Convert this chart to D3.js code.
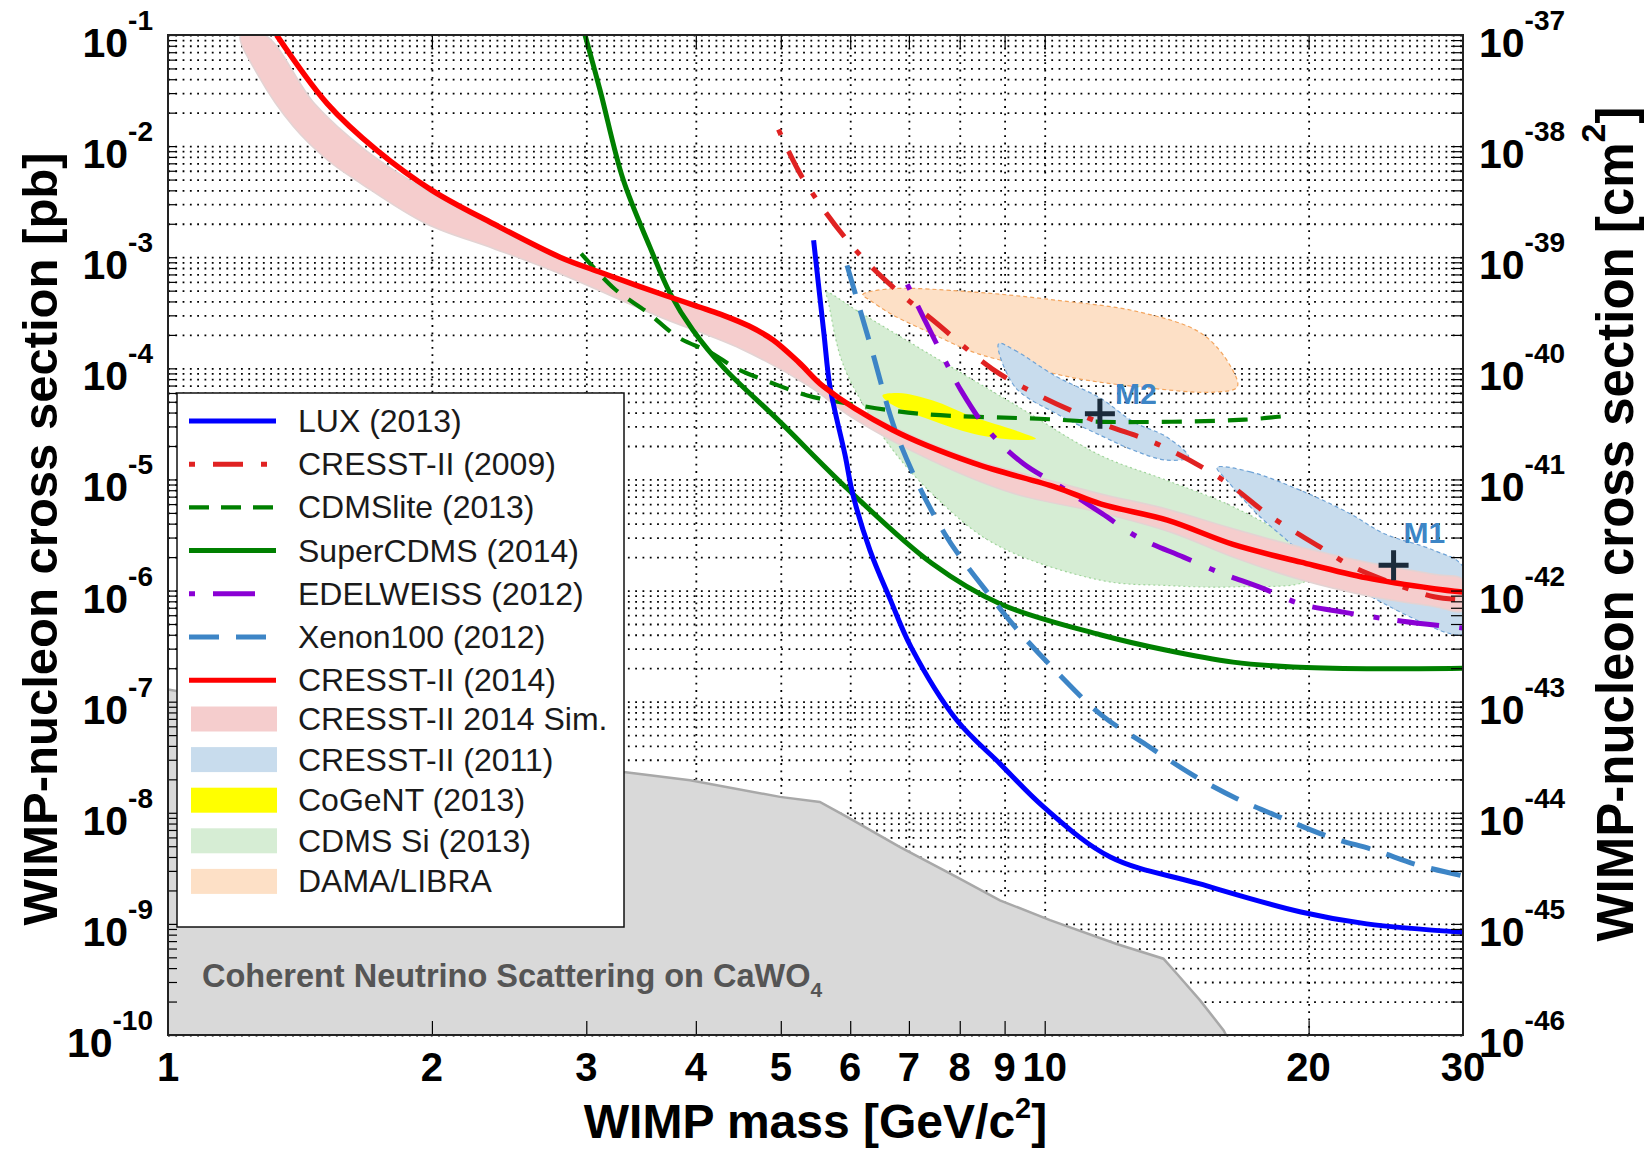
<!DOCTYPE html>
<html>
<head>
<meta charset="utf-8">
<script src="https://d3js.org/d3.v7.min.js"></script>
<title>WIMP-nucleon cross section limits</title>
<style>
  body { margin: 0; background: #fff; }
  svg { display: block; font-family: "Liberation Sans", Arial, Helvetica, sans-serif; }
</style>
</head>
<body>
<div id="chart"></div>
<script>
  // values: mass in GeV/c^2, cross section in pb
  const massTicks = [1, 2, 3, 4, 5, 6, 7, 8, 9, 10, 20, 30];
  const pbExponents = [-1, -2, -3, -4, -5, -6, -7, -8, -9, -10];
  const cm2Exponents = [-37, -38, -39, -40, -41, -42, -43, -44, -45, -46];
  const mantissas = [1, 2, 3, 4, 5, 6, 7, 8, 9];

  // exclusion curves
  const luxMass = [5.45, 5.6, 5.69, 5.92, 6.04, 6.32, 6.67, 7.04, 7.94, 8.89, 9.97, 11.88, 15.0, 19.6, 23.3, 30];
  const luxSigma = [1.42e-3, 2.05e-4, 6.8e-5, 1.65e-5, 7.4e-6, 2.3e-6, 8.2e-7, 3.1e-7, 6.8e-8, 2.77e-8, 1.13e-8, 4.0e-9, 2.3e-9, 1.28e-9, 1.0e-9, 8.4e-10];

  const cresst09Mass = [4.97, 5.3, 6.02, 6.71, 7.5, 8.71, 9.77, 11.5, 13.54, 16.0, 18.1, 20.6, 22.1, 23.3, 27.8, 30];
  const cresst09Sigma = [1.41e-2, 5.1e-3, 1.28e-3, 5.4e-4, 2.61e-4, 9.9e-5, 5.9e-5, 3.29e-5, 2.03e-5, 9.8e-6, 4.65e-6, 2.47e-6, 1.75e-6, 1.44e-6, 8.8e-7, 8.3e-7];

  const cdmsliteMass = [2.96, 3.23, 3.52, 3.82, 4.15, 4.46, 4.86, 5.36, 5.98, 7.2, 10.0, 11.6, 16.9, 19.2];
  const cdmsliteSigma = [1.08e-3, 5.2e-4, 3.2e-4, 1.9e-4, 1.4e-4, 9.9e-5, 7.5e-5, 5.7e-5, 4.8e-5, 3.9e-5, 3.5e-5, 3.3e-5, 3.45e-5, 3.8e-5];

  const superCdmsMass = [2.99, 3.11, 3.305, 3.545, 3.74, 3.97, 4.31, 4.97, 5.98, 7.44, 8.89, 11.57, 13.78, 16.4, 19.2, 23.3, 30];
  const superCdmsSigma = [0.1, 3.2e-2, 5.0e-3, 1.24e-3, 4.7e-4, 2.2e-4, 1.0e-4, 3.4e-5, 8.0e-6, 1.75e-6, 7.6e-7, 4.0e-7, 2.9e-7, 2.27e-7, 2.05e-7, 1.98e-7, 2.0e-7];

  const edelweissMass = [6.97, 7.56, 8.03, 8.62, 9.45, 10.37, 11.63, 12.76, 14.4, 15.77, 17.77, 19.56, 21.9, 25.6, 30];
  const edelweissSigma = [5.7e-4, 1.56e-4, 6.3e-5, 2.77e-5, 1.39e-5, 8.85e-6, 4.92e-6, 3.03e-6, 2.0e-6, 1.47e-6, 1.04e-6, 7.6e-7, 6.4e-7, 5.3e-7, 4.6e-7];

  const xenonMass = [5.95, 6.32, 6.82, 7.69, 8.74, 9.25, 10.32, 11.6, 13.08, 14.78, 16.57, 18.73, 21.2, 23.8, 26.6, 30];
  const xenonSigma = [8.45e-4, 1.67e-4, 2.25e-5, 3.25e-6, 8.2e-7, 4.7e-7, 1.85e-7, 7.6e-8, 4.05e-8, 2.17e-8, 1.34e-8, 8.85e-9, 6.0e-9, 4.6e-9, 3.4e-9, 2.7e-9];

  const cresst14Mass = [1.33, 1.52, 1.73, 2.0, 2.35, 2.8, 3.1, 3.7, 4.3, 4.6, 4.9, 5.25, 5.6, 6.7, 8.3, 10.3, 11.6, 13.8, 16.4, 19.6, 23.3, 27.8, 30];
  const cresst14Sigma = [0.1, 2.4e-2, 9.2e-3, 4.0e-3, 2.0e-3, 1.0e-3, 7.4e-4, 4.5e-4, 3.0e-4, 2.4e-4, 1.8e-4, 1.12e-4, 6.8e-5, 2.8e-5, 1.4e-5, 8.5e-6, 6.0e-6, 4.3e-6, 2.6e-6, 1.8e-6, 1.3e-6, 1.04e-6, 9.7e-7];

  // filled regions (edge points, going round the outline)
  const simUpperMass = [1.29, 1.47, 1.68, 1.97, 2.35, 2.8, 3.1, 3.7, 4.3, 4.6, 4.9, 5.25, 5.6, 6.7, 8.3, 10.3, 11.6, 13.8, 16.4, 19.6, 23.3, 27.8, 30];
  const simUpperSigma = [0.1, 2.4e-2, 9.2e-3, 4.0e-3, 1.9e-3, 9.5e-4, 7.2e-4, 4.5e-4, 3.0e-4, 2.4e-4, 1.8e-4, 1.15e-4, 7.0e-5, 3.0e-5, 1.5e-5, 9.5e-6, 7.4e-6, 5.4e-6, 3.6e-6, 2.45e-6, 1.8e-6, 1.4e-6, 1.25e-6];
  const simLowerMass = [1.21, 1.27, 1.39, 1.52, 1.66, 1.97, 2.35, 2.8, 3.64, 4.5, 5.4, 6.0, 7.4, 9.2, 11.6, 14, 16.4, 19.6, 23.3, 27.8, 30];
  const simLowerSigma = [0.1, 4.2e-2, 1.5e-2, 7.5e-3, 4.6e-3, 2.0e-3, 1.2e-3, 7.1e-4, 2.9e-4, 1.5e-4, 6.8e-5, 3.7e-5, 1.5e-5, 7.5e-6, 5.0e-6, 3.3e-6, 2.0e-6, 1.25e-6, 9.0e-7, 7.2e-7, 6.6e-7];

  const damaMass = [6.2, 6.67, 8.29, 10.32, 12.83, 15.11, 16.31, 16.58, 15.61, 12.83, 10.89, 9.25, 8.29, 7.44, 6.67, 6.32];
  const damaSigma = [4.6e-4, 5.2e-4, 4.86e-4, 4.1e-4, 3.21e-4, 2.05e-4, 1.03e-4, 6.8e-5, 6.1e-5, 6.8e-5, 8.1e-5, 1.1e-4, 1.4e-4, 2.05e-4, 3.1e-4, 4.1e-4];

  const cresst11M2Mass = [8.86, 9.25, 10.32, 11.57, 12.63, 13.78, 14.59, 13.78, 12.63, 11.57, 10.32, 9.25];
  const cresst11M2Sigma = [1.67e-4, 1.45e-4, 8.4e-5, 5.4e-5, 3.29e-5, 2.41e-5, 1.59e-5, 1.49e-5, 1.83e-5, 2.5e-5, 3.9e-5, 6.8e-5];
  const cresst11M1Mass = [15.72, 17.16, 19.56, 22.3, 24.4, 27.8, 30, 30, 29.0, 26.6, 24.4, 22.9, 20.45, 18.9, 17.46, 16.14];
  const cresst11M1Sigma = [1.28e-5, 1.17e-5, 8.0e-6, 4.92e-6, 3.25e-6, 2.3e-6, 1.63e-6, 4.1e-7, 4.1e-7, 5.4e-7, 7.6e-7, 1.0e-6, 1.63e-6, 2.83e-6, 4.92e-6, 9.8e-6];

  const cogentMass = [6.53, 6.82, 7.44, 8.29, 9.25, 9.77, 9.25, 8.29, 7.44, 6.67];
  const cogentSigma = [5.7e-5, 6.0e-5, 5.15e-5, 3.65e-5, 2.77e-5, 2.33e-5, 2.28e-5, 2.58e-5, 3.4e-5, 4.8e-5];

  const cdmsSiMass = [5.63, 6.11, 7.44, 9.25, 11.57, 13.78, 16.42, 19.05, 19.9, 19.9, 16.42, 13.78, 11.57, 8.76, 7.44, 6.67, 6.11, 5.85, 5.66];
  const cdmsSiSigma = [4.86e-4, 3.3e-4, 1.3e-4, 4.7e-5, 1.65e-5, 9.8e-6, 5.65e-6, 2.83e-6, 1.69e-6, 1.24e-6, 1.08e-6, 1.11e-6, 1.24e-6, 2.64e-6, 7.45e-6, 1.96e-5, 5.9e-5, 1.26e-4, 4.1e-4];

  // coherent neutrino scattering on CaWO4 (upper edge of grey area)
  const neutrinoMass = [1, 3.31, 3.94, 4.99, 5.54, 5.95, 6.84, 7.94, 8.89, 10.14, 12.08, 13.66, 14.15, 15.04, 16.0, 16.1];
  const neutrinoSigma = [1.29e-7, 2.33e-8, 1.96e-8, 1.39e-8, 1.25e-8, 9.2e-9, 4.9e-9, 2.64e-9, 1.63e-9, 1.08e-9, 6.6e-10, 4.86e-10, 3.56e-10, 2.05e-10, 1.1e-10, 1e-10];

  // best fit points of CRESST-II 2011
  const markerNames = ["M1", "M2"];
  const markerMass = [25.0, 11.56];
  const markerSigma = [1.69e-6, 3.9e-5];

  const legendLabels = ["LUX (2013)", "CRESST-II (2009)", "CDMSlite (2013)", "SuperCDMS (2014)", "EDELWEISS (2012)",
    "Xenon100 (2012)", "CRESST-II (2014)", "CRESST-II 2014 Sim.", "CRESST-II (2011)", "CoGeNT (2013)",
    "CDMS Si (2013)", "DAMA/LIBRA"];

  const zip = (ms, ss) => ms.map((m, i) => [m, ss[i]]);

  // Set up the dimensions for the chart
  const margin = { top: 35, left: 168 };
  const width = 1295;
  const height = 1000;

  const x = d3.scaleLog().domain([1, 30]).range([0, width]);
  const y = d3.scaleLog().domain([1e-10, 1e-1]).range([height, 0]);
  const yRight = d3.scaleLog().domain([1e-46, 1e-37]).range([height, 0]);

  const svg = d3.select("#chart")
    .append("svg")
    .attr("width", 1650)
    .attr("height", 1151);

  svg.append("defs").append("clipPath").attr("id", "plot-clip")
    .append("rect").attr("width", width).attr("height", height);

  const g = svg.append("g").attr("transform", `translate(${margin.left}, ${margin.top})`);

  // grid values: every mantissa of every decade
  const yGridValues = [];
  pbExponents.slice(1).forEach(e => mantissas.forEach(k => yGridValues.push(k * Math.pow(10, e))));
  yGridValues.push(0.1);
  const xGridValues = massTicks.filter(m => m > 1 && m < 30);

  // dotted grid
  const hGrid = g.append("g")
    .call(d3.axisLeft(y).tickValues(yGridValues).tickSize(-width).tickFormat(""));
  const vGrid = g.append("g")
    .attr("transform", `translate(0, ${height})`)
    .call(d3.axisBottom(x).tickValues(xGridValues).tickSize(-height).tickFormat(""));
  [hGrid, vGrid].forEach(grid => {
    grid.select(".domain").remove();
    grid.selectAll("line")
      .attr("stroke", "#000")
      .attr("stroke-width", 1.8)
      .attr("stroke-dasharray", "1.8,5.5");
  });

  const plot = g.append("g").attr("clip-path", "url(#plot-clip)");

  const line = d3.line().x(d => x(d[0])).y(d => y(d[1])).curve(d3.curveCatmullRom.alpha(0.5));
  const closed = d3.line().x(d => x(d[0])).y(d => y(d[1])).curve(d3.curveCatmullRomClosed.alpha(0.5));

  // neutrino background area
  const neutrino = zip(neutrinoMass, neutrinoSigma);
  plot.append("path")
    .datum(neutrino)
    .attr("d", d3.area().x(d => x(d[0])).y0(height).y1(d => y(d[1])))
    .attr("fill", "#d9d9d9");
  plot.append("path")
    .datum(neutrino)
    .attr("d", d3.line().x(d => x(d[0])).y(d => y(d[1])))
    .attr("fill", "none")
    .attr("stroke", "#a8a8a8")
    .attr("stroke-width", 2.5);

  plot.append("text")
    .attr("x", 34)
    .attr("y", 952)
    .attr("font-size", 32.5)
    .attr("font-weight", "bold")
    .attr("fill", "#555")
    .text("Coherent Neutrino Scattering on CaWO")
    .append("tspan").attr("dy", 10).attr("font-size", 21).text("4");

  // signal regions
  const regions = [
    { pts: zip(damaMass, damaSigma), fill: "#fde0c6", stroke: "#f3a55e", dash: "4,3" },
    { pts: zip(cdmsSiMass, cdmsSiSigma), fill: "#d6edd4", stroke: "#9fd49a", dash: "2,3" },
    { pts: zip(cresst11M2Mass, cresst11M2Sigma), fill: "#c8dced", stroke: "#6fa3d6", dash: "4,3" },
    { pts: zip(cresst11M1Mass, cresst11M1Sigma), fill: "#c8dced", stroke: "#6fa3d6", dash: "4,3" }
  ];
  regions.forEach(r => {
    plot.append("path")
      .datum(r.pts)
      .attr("d", closed)
      .attr("fill", r.fill)
      .attr("stroke", r.stroke)
      .attr("stroke-width", 1.2)
      .attr("stroke-dasharray", r.dash);
  });

  // simulated CRESST-II 2014 band
  const band = zip(simUpperMass, simUpperSigma).concat(zip(simLowerMass, simLowerSigma).reverse());
  plot.append("path")
    .datum(band)
    .attr("d", closed)
    .attr("fill", "#f5cdcd")
    .attr("stroke", "#e3d3d3")
    .attr("stroke-width", 1.5);

  plot.append("path")
    .datum(zip(cogentMass, cogentSigma))
    .attr("d", closed)
    .attr("fill", "#ffff00");

  // exclusion limits
  const curves = [
    { pts: zip(cdmsliteMass, cdmsliteSigma), color: "#008000", dash: "20,13", w: 4.2 },
    { pts: zip(superCdmsMass, superCdmsSigma), color: "#008000", dash: null, w: 5 },
    { pts: zip(xenonMass, xenonSigma), color: "#3d85c6", dash: "30,17", w: 5 },
    { pts: zip(edelweissMass, edelweissSigma), color: "#8a00d4", dash: "6,18,42,20", w: 5 },
    { pts: zip(cresst09Mass, cresst09Sigma), color: "#e02222", dash: "6,18,30,18", w: 5 },
    { pts: zip(luxMass, luxSigma), color: "#0000ff", dash: null, w: 5 },
    { pts: zip(cresst14Mass, cresst14Sigma), color: "#ff0000", dash: null, w: 5.5 }
  ];
  curves.forEach(c => {
    plot.append("path")
      .datum(c.pts)
      .attr("d", line)
      .attr("fill", "none")
      .attr("stroke", c.color)
      .attr("stroke-width", c.w)
      .attr("stroke-dasharray", c.dash);
  });

  // best fit markers
  const labelOffset = { M1: [10, -22], M2: [15, -10] };
  markerNames.forEach((name, i) => {
    const px = x(markerMass[i]);
    const py = y(markerSigma[i]);
    plot.append("path")
      .attr("d", `M${px - 15},${py}H${px + 15}M${px},${py - 15}V${py + 15}`)
      .attr("stroke", "#1b2b3b")
      .attr("stroke-width", 5);
    plot.append("text")
      .attr("x", px + labelOffset[name][0])
      .attr("y", py + labelOffset[name][1])
      .attr("font-size", 30)
      .attr("font-weight", "bold")
      .attr("fill", "#3d85c6")
      .text(name);
  });

  // legend
  const legendItems = [
    { type: "line", color: "#0000ff", dash: null, w: 5 },
    { type: "line", color: "#e02222", dash: "6,18,30,18", w: 5 },
    { type: "line", color: "#008000", dash: "20,12", w: 4.2 },
    { type: "line", color: "#008000", dash: null, w: 5 },
    { type: "line", color: "#8a00d4", dash: "6,18,42,30", w: 5 },
    { type: "line", color: "#3d85c6", dash: "30,17", w: 5 },
    { type: "line", color: "#ff0000", dash: null, w: 5 },
    { type: "box", color: "#f5cdcd" },
    { type: "box", color: "#c8dced" },
    { type: "box", color: "#ffff00" },
    { type: "box", color: "#d6edd4" },
    { type: "box", color: "#fde0c6" }
  ];
  const legend = g.append("g").attr("transform", "translate(9, 358)");
  legend.append("rect")
    .attr("width", 447)
    .attr("height", 534)
    .attr("fill", "#fff")
    .attr("stroke", "#111")
    .attr("stroke-width", 1.5);
  legendItems.forEach((item, i) => {
    const ly = i < 7 ? 28 + i * 43.2 : 326 + (i - 7) * 40.6;
    if (item.type === "line") {
      legend.append("line")
        .attr("x1", 12).attr("x2", 99)
        .attr("y1", ly).attr("y2", ly)
        .attr("stroke", item.color)
        .attr("stroke-width", item.w)
        .attr("stroke-dasharray", item.dash);
    } else {
      legend.append("rect")
        .attr("x", 14).attr("y", ly - 12.5)
        .attr("width", 86).attr("height", 25)
        .attr("fill", item.color);
    }
    legend.append("text")
      .attr("x", 121)
      .attr("y", ly + 11)
      .attr("font-size", 32)
      .attr("fill", "#1a1a1a")
      .text(legendLabels[i]);
  });

  // small ticks along the frame
  const frameTicks = [
    g.append("g").call(d3.axisLeft(y).tickValues(yGridValues).tickSize(-9).tickFormat("")),
    g.append("g").attr("transform", `translate(${width}, 0)`)
      .call(d3.axisRight(y).tickValues(yGridValues).tickSize(-12).tickFormat("")),
    g.append("g").attr("transform", `translate(0, ${height})`)
      .call(d3.axisBottom(x).tickValues(xGridValues).tickSize(-14).tickFormat("")),
    g.append("g").call(d3.axisTop(x).tickValues(xGridValues).tickSize(-14).tickFormat(""))
  ];
  frameTicks.forEach(t => {
    t.select(".domain").remove();
    t.selectAll("line").attr("stroke", "#000").attr("stroke-width", 1.2);
  });

  g.append("rect")
    .attr("width", width)
    .attr("height", height)
    .attr("fill", "none")
    .attr("stroke", "#222")
    .attr("stroke-width", 2);

  // tick labels
  g.append("g").selectAll("text")
    .data(pbExponents)
    .join("text")
    .attr("x", -15)
    .attr("y", d => y(Math.pow(10, d)) + 22)
    .attr("text-anchor", "end")
    .attr("font-size", 41)
    .attr("font-weight", "bold")
    .each(function (d) {
      const t = d3.select(this);
      t.append("tspan").text("10");
      t.append("tspan").attr("dy", -27).attr("font-size", 28).text(d);
    });

  g.append("g").selectAll("text")
    .data(cm2Exponents)
    .join("text")
    .attr("x", width + 16)
    .attr("y", d => yRight(Math.pow(10, d)) + 22)
    .attr("font-size", 41)
    .attr("font-weight", "bold")
    .each(function (d) {
      const t = d3.select(this);
      t.append("tspan").text("10");
      t.append("tspan").attr("dy", -27).attr("font-size", 28).text(d);
    });

  g.append("g").selectAll("text")
    .data(massTicks)
    .join("text")
    .attr("x", d => x(d))
    .attr("y", height + 46)
    .attr("text-anchor", "middle")
    .attr("font-size", 40)
    .attr("font-weight", "bold")
    .text(d => d);

  // axis titles
  const xTitle = g.append("text")
    .attr("x", width / 2)
    .attr("y", height + 103)
    .attr("text-anchor", "middle")
    .attr("font-size", 48)
    .attr("font-weight", "bold");
  xTitle.append("tspan").text("WIMP mass [GeV/c");
  xTitle.append("tspan").attr("dy", -20).attr("font-size", 29).text("2");
  xTitle.append("tspan").attr("dy", 20).text("]");

  g.append("text")
    .attr("transform", `translate(${-111}, ${height / 2 + 4}) rotate(-90)`)
    .attr("text-anchor", "middle")
    .attr("font-size", 49)
    .attr("font-weight", "bold")
    .text("WIMP-nucleon cross section [pb]");

  const rTitle = g.append("text")
    .attr("transform", `translate(${width + 170}, ${height / 2 - 11}) rotate(-90)`)
    .attr("text-anchor", "middle")
    .attr("font-size", 51)
    .attr("font-weight", "bold");
  rTitle.append("tspan").text("WIMP-nucleon cross section [cm");
  rTitle.append("tspan").attr("dy", -28).attr("font-size", 34).text("2");
  rTitle.append("tspan").attr("dy", 28).text("]");
</script>
</body>
</html>
